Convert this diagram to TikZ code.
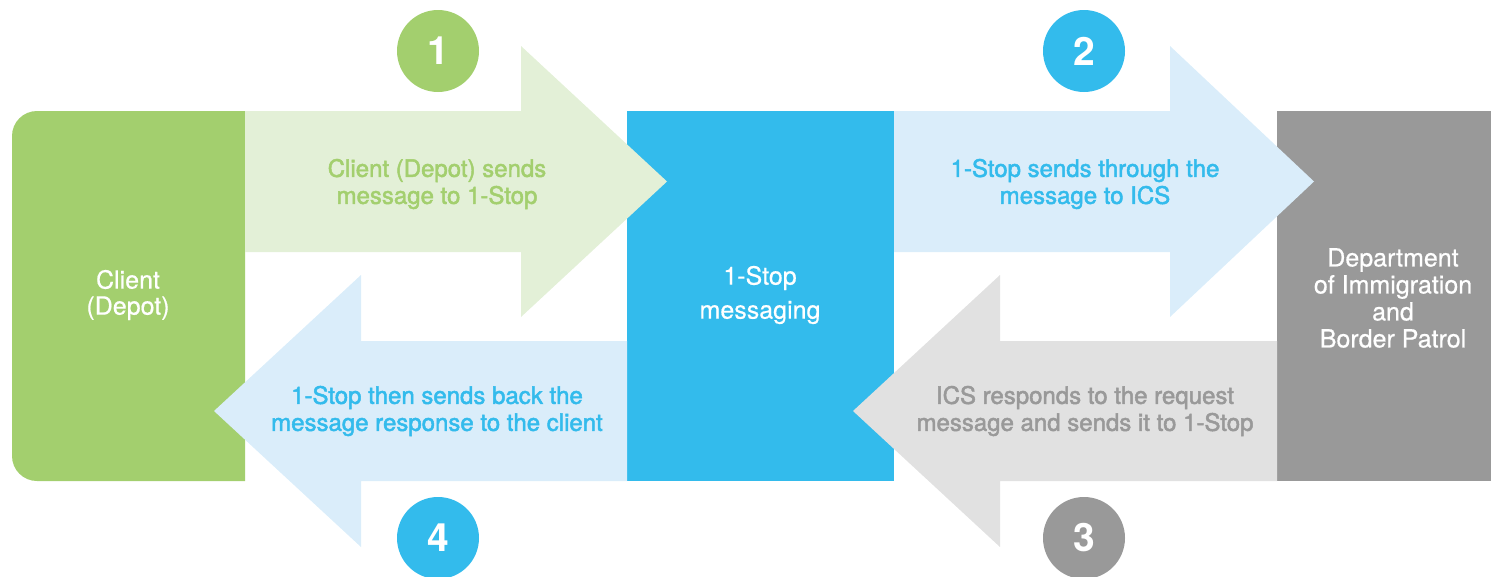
\documentclass[tikz,border=0pt]{standalone}
\usepackage{fontspec}
\setmainfont{TeX Gyre Heros}
\newfontfamily\medfont{TeX Gyre Heros}[FakeBold=2]
\newfontfamily\boxfont{TeX Gyre Heros}[FakeBold=0.6]
\usetikzlibrary{calc}
\definecolor{cgreen}{HTML}{A3CF6E}
\definecolor{cgreenl}{HTML}{E3F0D7}
\definecolor{cblue}{HTML}{33BBEC}
\definecolor{cbluel}{HTML}{DAEDFA}
\definecolor{cgray}{HTML}{999999}
\definecolor{cgrayl}{HTML}{E1E1E1}
\tikzset{
  boxtext/.style={text=white, align=center, font=\boxfont\fontsize{25}{27}\selectfont, inner sep=0pt},
  arrtext/.style={align=center, font=\medfont\fontsize{24}{27}\selectfont, inner sep=0pt},
  numcirc/.style={circle, minimum size=82pt, inner sep=0pt, text=white, font=\bfseries\fontsize{39}{39}\selectfont},
  stepbox/.style={inner sep=0pt, outer sep=0pt}
}
\begin{document}
\begin{tikzpicture}[x=1pt,y=-1pt]
\useasboundingbox (0,0) rectangle (1491,576);
% boxes
\fill[cgreen] (245,111) [rounded corners=25pt] -- (12,111) -- (12,481) [sharp corners] -- (245,481) -- cycle;
\node[stepbox, minimum width=233pt, minimum height=370pt] (client) at (128.5,296) {};
\node[stepbox, fill=cblue, minimum width=267pt, minimum height=370pt] (stop) at (760.5,296) {};
\node[stepbox, fill=cgray, minimum width=214pt, minimum height=370pt] (dept) at (1384,296) {};
% arrows
\fill[cgreenl] (client.north east) -- (521,111) -- (521,46) -- (667,181.5) -- (521,317) -- (521,252) -- (245,252) -- cycle;
\fill[cbluel] (stop.north east) -- (1170,111) -- (1170,46) -- (1314,181.5) -- (1170,317) -- (1170,252) -- (894,252) -- cycle;
\fill[cgrayl] (dept.south west) -- (1000,481) -- (1000,547) -- (853,411) -- (1000,275) -- (1000,341) -- (1277,341) -- cycle;
\fill[cbluel] (stop.south west) -- (361,481) -- (361,547) -- (214,411) -- (361,275) -- (361,341) -- (627,341) -- cycle;
% box texts
\node[boxtext, font=\boxfont\fontsize{25}{26}\selectfont] (tclient) at (128,295) {Client\\(Depot)};
\node[boxtext, font=\boxfont\fontsize{25}{34}\selectfont] (tstop) at (760,295) {1-Stop\\messaging};
\node[boxtext] (tdept) at (1393,298) {Department\\of Immigration\\and\\Border Patrol};
% arrow texts
\node[arrtext, text=cgreen] (t1) at (437,184) {Client (Depot) sends\\message to 1-Stop};
\node[arrtext, text=cblue] (t2) at (1085,184) {1-Stop sends through the\\message to ICS};
\node[arrtext, text=cgray] (t3) at (1085,411) {ICS responds to the request\\message and sends it to 1-Stop};
\node[arrtext, text=cblue] (t4) at (437,411) {1-Stop then sends back the\\message response to the client};
% numbers
\node[numcirc, fill=cgreen] (n1) at (438,51) {1};
\node[numcirc, fill=cblue] (n2) at (1084,51) {2};
\node[numcirc, fill=cgray] (n3) at (1084,538) {3};
\node[numcirc, fill=cblue] (n4) at (438,538) {4};
\end{tikzpicture}
\end{document}
